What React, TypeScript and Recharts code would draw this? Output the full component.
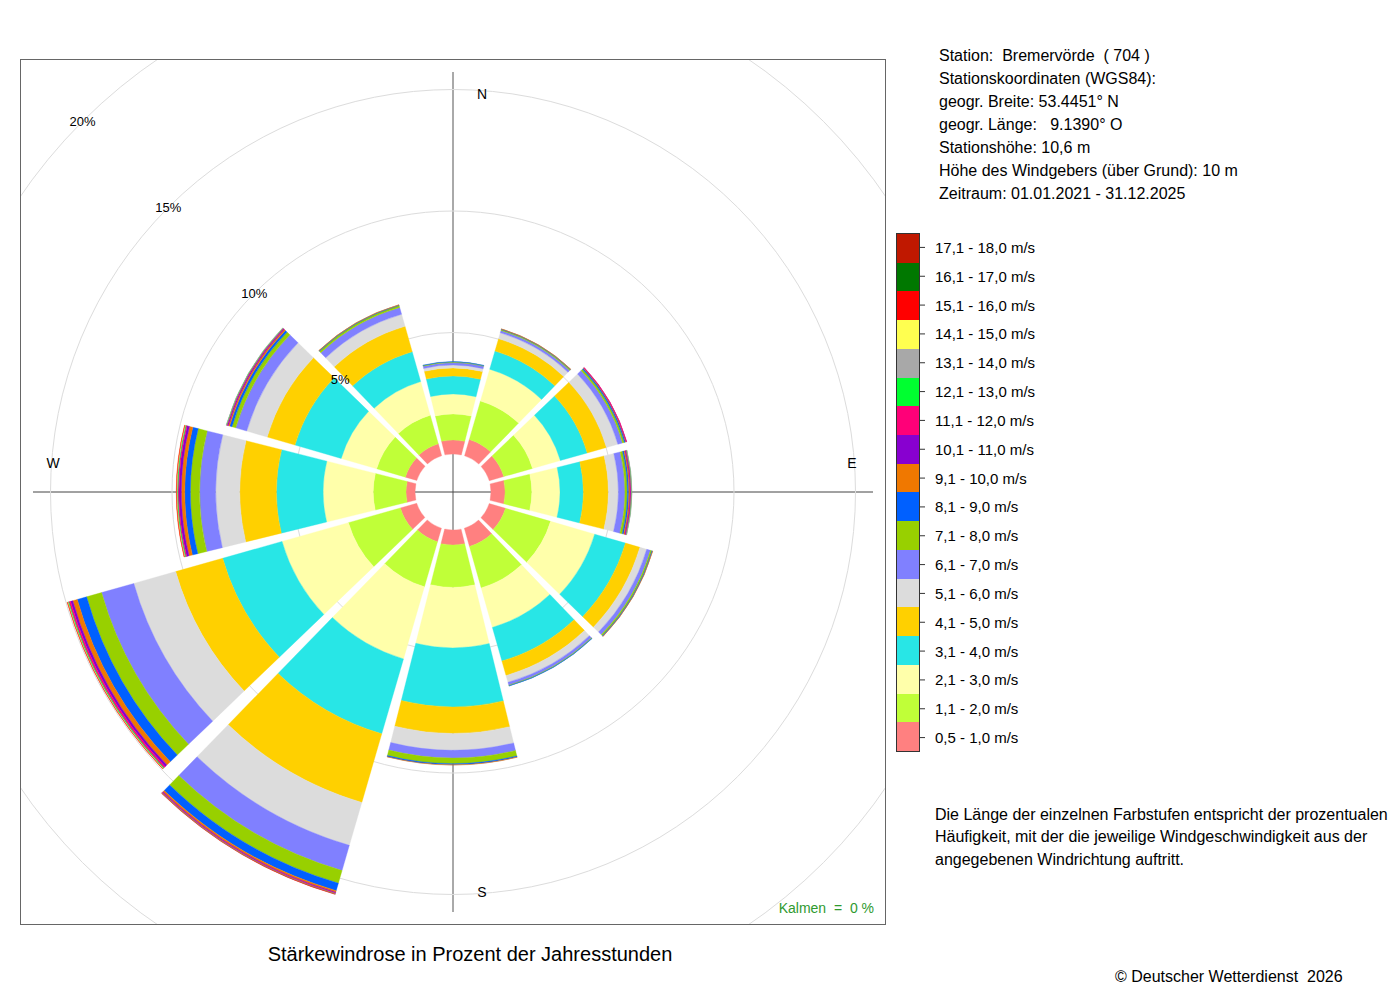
import React from 'react';
import { RadialBarChart, RadialBar, PolarGrid, PolarAngleAxis, PolarRadiusAxis } from 'recharts';

// Wind directions (sector centres, clockwise from north)
const directions = ['N', '30°', '60°', 'O', '120°', '150°', 'S', '210°', '240°', 'W', '300°', '330°'];

// Speed classes (bottom of stack first)
const speedClasses = [
  '0,5 - 1,0 m/s', '1,1 - 2,0 m/s', '2,1 - 3,0 m/s', '3,1 - 4,0 m/s', '4,1 - 5,0 m/s',
  '5,1 - 6,0 m/s', '6,1 - 7,0 m/s', '7,1 - 8,0 m/s', '8,1 - 9,0 m/s', '9,1 - 10,0 m/s',
  '10,1 - 11,0 m/s', '11,1 - 12,0 m/s', '12,1 - 13,0 m/s', '13,1 - 14,0 m/s', '14,1 - 15,0 m/s',
  '15,1 - 16,0 m/s', '16,1 - 17,0 m/s', '17,1 - 18,0 m/s',
];
const classColors = [
  '#FF8080', '#C0FF38', '#FFFFAA', '#28E6E6', '#FFD000', '#DCDCDC', '#8080FF', '#98D000',
  '#0060FF', '#F07800', '#8800D0', '#FF0078', '#00FF30', '#A8A8A8', '#FFFF50', '#FF0000',
  '#007800', '#C01800',
];

// Percent of hours per speed class, one list per direction
const dirN   = [0.58, 1.07, 0.82, 0.74, 0.33, 0.12, 0.10, 0.03, 0.01, 0, 0, 0, 0, 0, 0, 0, 0, 0];
const dir30  = [0.70, 1.65, 1.36, 0.78, 0.53, 0.25, 0.10, 0.04, 0.02, 0.01, 0, 0, 0, 0, 0, 0, 0, 0];
const dir60  = [0.62, 1.23, 1.19, 1.15, 0.82, 0.49, 0.20, 0.08, 0.05, 0.03, 0.01, 0.01, 0, 0, 0, 0, 0, 0];
const dirO   = [0.58, 1.10, 1.16, 0.96, 1.03, 0.41, 0.27, 0.10, 0.06, 0.05, 0.03, 0.03, 0.01, 0.01, 0, 0, 0, 0];
const dir120 = [0.70, 1.93, 1.89, 1.32, 0.62, 0.29, 0.16, 0.06, 0.03, 0.01, 0, 0, 0, 0, 0, 0, 0, 0];
const dir150 = [0.78, 1.77, 1.69, 1.44, 0.62, 0.29, 0.12, 0.03, 0.01, 0, 0, 0, 0, 0, 0, 0, 0, 0];
const dirS   = [0.62, 1.74, 2.49, 2.43, 1.09, 0.69, 0.32, 0.23, 0.05, 0.01, 0, 0, 0, 0, 0, 0, 0, 0];
const dir210 = [0.58, 1.93, 3.09, 3.21, 2.94, 1.84, 1.08, 0.54, 0.32, 0.07, 0.03, 0.03, 0.01, 0.01, 0, 0.01, 0, 0];
const dir240 = [0.70, 2.22, 2.84, 2.54, 2.01, 1.79, 1.38, 0.64, 0.40, 0.19, 0.10, 0.07, 0.03, 0.02, 0.01, 0.01, 0, 0];
const dirW   = [0.37, 1.35, 2.06, 1.92, 1.51, 0.99, 0.66, 0.38, 0.23, 0.14, 0.10, 0.04, 0.03, 0.02, 0.01, 0.01, 0, 0];
const dir300 = [0.49, 1.23, 1.52, 1.98, 1.19, 0.88, 0.47, 0.16, 0.10, 0.06, 0.04, 0.03, 0.01, 0.01, 0, 0, 0, 0];
const dir330 = [0.51, 1.22, 1.44, 1.28, 1.09, 0.51, 0.29, 0.08, 0.03, 0.01, 0, 0, 0, 0, 0, 0, 0, 0];

const radiusTicks = [5, 10, 15, 20];

const stationLines = [
  'Station:  Bremervörde  ( 704 )',
  'Stationskoordinaten (WGS84):',
  'geogr. Breite: 53.4451° N',
  'geogr. Länge:   9.1390° O',
  'Stationshöhe: 10,6 m',
  'Höhe des Windgebers (über Grund): 10 m',
  'Zeitraum: 01.01.2021 - 31.12.2025',
];
const noteLines = [
  'Die Länge der einzelnen Farbstufen entspricht der prozentualen',
  'Häufigkeit, mit der die jeweilige Windgeschwindigkeit aus der',
  'angegebenen Windrichtung auftritt.',
];

const rowsByDir = [dirN, dir30, dir60, dirO, dir120, dir150, dirS, dir210, dir240, dirW, dir300, dir330];
const data = directions.map((d, i) => {
  const o: Record<string, any> = { dir: d };
  rowsByDir[i].forEach((v, j) => { o['c' + j] = v; });
  return o;
});

const FONT = '"Liberation Sans", Arial, Helvetica, sans-serif';
const EDGE = 1; // constant half-gap in px added to the angular gap

function WedgeShape(props: any) {
  const { cx, cy, innerRadius, outerRadius, startAngle, endAngle, fill } = props;
  const ri = Math.max(innerRadius, 1);
  const ro = outerRadius;
  if (!(ro - ri > 0.01)) return null;
  const a0 = Math.min(startAngle, endAngle);
  const a1 = Math.max(startAngle, endAngle);
  const RAD = Math.PI / 180;
  const off = (r: number) => Math.asin(Math.min(1, EDGE / r)) / RAD;
  const pt = (r: number, a: number) => `${cx + r * Math.cos(a * RAD)},${cy - r * Math.sin(a * RAD)}`;
  const path =
    `M${pt(ri, a0 + off(ri))} L${pt(ro, a0 + off(ro))} ` +
    `A${ro},${ro} 0 0 0 ${pt(ro, a1 - off(ro))} L${pt(ri, a1 - off(ri))} ` +
    `A${ri},${ri} 0 0 1 ${pt(ri, a0 + off(ri))} Z`;
  return <path d={path} fill={fill} stroke={fill} strokeWidth={0.35} />;
}

function RadiusTick(props: any) {
  const { x, y, payload } = props;
  return (
    <text x={x} y={y} textAnchor="middle" dominantBaseline="central" fontSize={13} fontFamily={FONT} fill="#000">
      {payload.value}%
    </text>
  );
}

export default function App() {
  const legendTop = 233;
  const rowH = 519 / speedClasses.length;
  const legendRows = speedClasses.map((s, i) => ({ label: s, color: classColors[i] })).reverse();
  return (
    <div style={{ position: 'absolute', left: 0, top: 0, width: 1400, height: 1000, background: '#fff', fontFamily: FONT }}>
      {/* crosshair behind the bars */}
      <svg width={1400} height={1000} style={{ position: 'absolute', left: 0, top: 0 }}>
        <line x1={453} y1={72} x2={453} y2={912} stroke="#555" strokeWidth={1} />
        <line x1={33} y1={492} x2={873} y2={492} stroke="#444" strokeWidth={1} />
      </svg>

      <div style={{ position: 'absolute', left: 20, top: 59, width: 866, height: 866, overflow: 'hidden' }}>
        <RadialBarChart
          width={866}
          height={866}
          data={data}
          layout="centric"
          cx={433}
          cy={433}
          innerRadius={38}
          outerRadius={524}
          startAngle={75}
          endAngle={-285}
          barCategoryGap="2.7%"
          margin={{ top: 0, right: 0, bottom: 0, left: 0 }}
        >
          <PolarGrid gridType="circle" radialLines={false} stroke="#dcdcdc" />
          <PolarAngleAxis dataKey="dir" type="category" tick={false} axisLine={false} tickLine={false} />
          {speedClasses.map((s, j) => (
            <RadialBar
              key={s}
              dataKey={'c' + j}
              name={s}
              stackId="wind"
              fill={classColors[j]}
              shape={WedgeShape}
              isAnimationActive={false}
            />
          ))}
          <PolarRadiusAxis
            type="number"
            domain={[0, 20]}
            ticks={radiusTicks}
            angle={135}
            axisLine={false}
            tickLine={false}
            tick={RadiusTick}
          />
        </RadialBarChart>
      </div>

      {/* frame, compass letters, calm note */}
      <svg width={1400} height={1000} style={{ position: 'absolute', left: 0, top: 0, pointerEvents: 'none' }}>
        <rect x={20.5} y={59.5} width={865} height={865} fill="none" stroke="#666" strokeWidth={1} />
        <text x={482} y={94} textAnchor="middle" dominantBaseline="central" fontSize={14} fontFamily={FONT}>N</text>
        <text x={482} y={892} textAnchor="middle" dominantBaseline="central" fontSize={14} fontFamily={FONT}>S</text>
        <text x={53} y={463} textAnchor="middle" dominantBaseline="central" fontSize={14} fontFamily={FONT}>W</text>
        <text x={852} y={463} textAnchor="middle" dominantBaseline="central" fontSize={14} fontFamily={FONT}>E</text>
        <text x={874} y={908} textAnchor="end" dominantBaseline="central" fontSize={14} fontFamily={FONT} fill="#2f9a2f" style={{ whiteSpace: 'pre' }}>
          {'Kalmen  =  0 %'}
        </text>
        <text x={470} y={954} textAnchor="middle" dominantBaseline="central" fontSize={20} fontFamily={FONT} fill="#000">
          Stärkewindrose in Prozent der Jahresstunden
        </text>
        <text x={1115} y={976} textAnchor="start" dominantBaseline="central" fontSize={16} fontFamily={FONT} fill="#000" style={{ whiteSpace: 'pre' }}>
          {'© Deutscher Wetterdienst  2026'}
        </text>
      </svg>

      {/* station info */}
      <div style={{ position: 'absolute', left: 939, top: 43.5, fontSize: 16, lineHeight: '23px', whiteSpace: 'pre', color: '#000' }}>
        {stationLines.map((l) => (
          <div key={l}>{l}</div>
        ))}
      </div>

      {/* colour bar legend */}
      <div style={{ position: 'absolute', left: 896, top: legendTop, width: 24, height: 519, border: '1px solid #333', boxSizing: 'border-box' }}>
        {legendRows.map((r) => (
          <div key={r.label} style={{ height: rowH - 0.11, background: r.color }} />
        ))}
      </div>
      <svg width={1400} height={1000} style={{ position: 'absolute', left: 0, top: 0, pointerEvents: 'none' }}>
        {legendRows.map((r, i) => (
          <g key={r.label}>
            <line x1={920} x2={925} y1={legendTop + rowH * (i + 0.5)} y2={legendTop + rowH * (i + 0.5)} stroke="#333" />
            <text x={935} y={legendTop + rowH * (i + 0.5)} dominantBaseline="central" fontSize={15} fontFamily={FONT} fill="#000">
              {r.label}
            </text>
          </g>
        ))}
      </svg>

      {/* explanation */}
      <div style={{ position: 'absolute', left: 935, top: 803.75, fontSize: 16, lineHeight: '22.5px', color: '#000', whiteSpace: 'pre' }}>
        {noteLines.map((l) => (
          <div key={l}>{l}</div>
        ))}
      </div>
    </div>
  );
}
